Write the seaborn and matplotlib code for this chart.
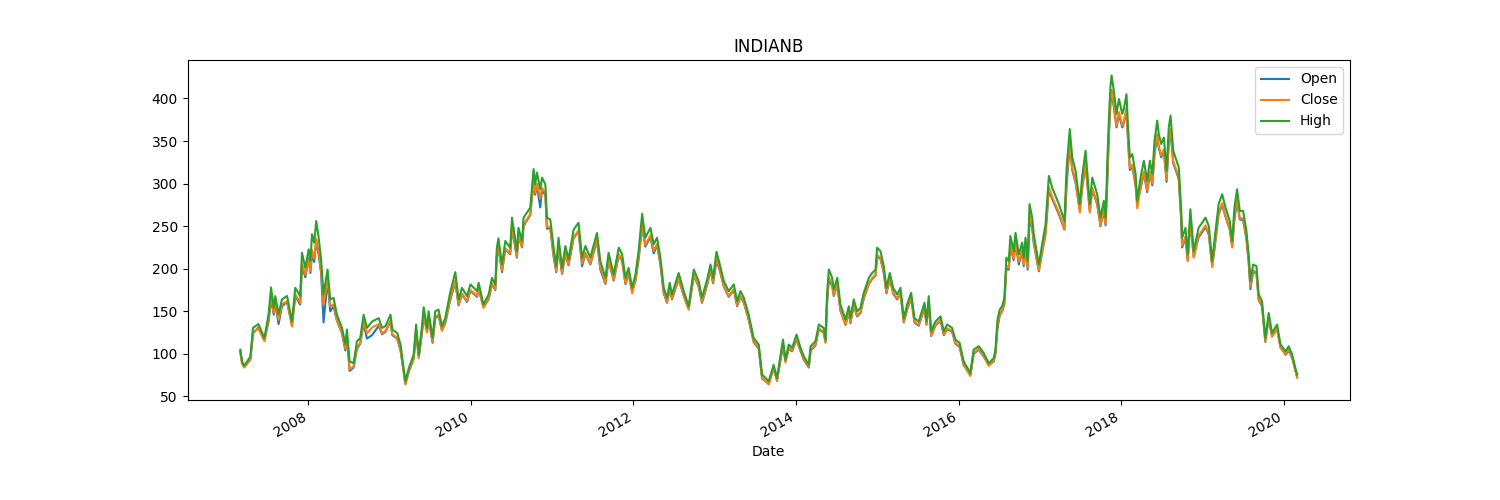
import pandas as pd
import matplotlib
matplotlib.use("Agg")
import matplotlib.pyplot as plt
import seaborn as sns

title = "INDIANB"

dates = [
    "2007-03-01", "2007-03-09", "2007-03-19", "2007-04-15", "2007-04-27", "2007-05-21", "2007-06-17",
    "2007-07-06", "2007-07-17", "2007-07-29", "2007-08-05", "2007-08-20", "2007-09-04", "2007-09-27",
    "2007-10-19", "2007-11-03", "2007-11-25", "2007-12-03", "2007-12-18", "2008-01-02", "2008-01-10",
    "2008-01-17", "2008-01-27", "2008-02-05", "2008-02-15", "2008-02-27", "2008-03-09", "2008-03-27",
    "2008-04-08", "2008-04-23", "2008-05-08", "2008-05-31", "2008-06-15", "2008-06-22", "2008-07-04",
    "2008-07-22", "2008-08-06", "2008-08-21", "2008-09-05", "2008-09-20", "2008-10-13", "2008-11-12",
    "2008-11-27", "2008-12-12", "2009-01-04", "2009-01-12", "2009-02-03", "2009-02-18", "2009-03-12",
    "2009-03-27", "2009-04-18", "2009-04-29", "2009-05-11", "2009-05-26", "2009-06-02", "2009-06-17",
    "2009-06-24", "2009-07-05", "2009-07-12", "2009-07-24", "2009-08-08", "2009-08-23", "2009-09-07",
    "2009-09-29", "2009-10-22", "2009-11-06", "2009-11-21", "2009-12-14", "2009-12-29", "2010-01-28",
    "2010-02-04", "2010-02-26", "2010-03-21", "2010-04-05", "2010-04-20", "2010-04-27", "2010-05-04",
    "2010-05-20", "2010-06-04", "2010-06-26", "2010-07-04", "2010-07-26", "2010-08-02", "2010-08-18",
    "2010-08-25", "2010-09-09", "2010-09-24", "2010-10-02", "2010-10-09", "2010-10-16", "2010-10-24",
    "2010-11-08", "2010-11-16", "2010-12-01", "2010-12-08", "2010-12-23", "2011-01-07", "2011-01-19",
    "2011-01-29", "2011-02-14", "2011-03-01", "2011-03-15", "2011-04-07", "2011-04-29", "2011-05-15",
    "2011-05-30", "2011-06-21", "2011-07-21", "2011-08-05", "2011-08-28", "2011-09-11", "2011-10-04",
    "2011-10-27", "2011-11-11", "2011-11-26", "2011-12-10", "2011-12-26", "2012-01-10", "2012-01-24",
    "2012-02-09", "2012-02-23", "2012-03-17", "2012-04-01", "2012-04-16", "2012-05-01", "2012-05-16",
    "2012-05-31", "2012-06-12", "2012-06-22", "2012-07-22", "2012-08-14", "2012-09-05", "2012-09-28",
    "2012-10-20", "2012-11-04", "2012-11-27", "2012-12-12", "2012-12-24", "2013-01-08", "2013-01-23",
    "2013-02-10", "2013-03-04", "2013-03-27", "2013-04-11", "2013-04-26", "2013-05-11", "2013-06-02",
    "2013-06-24", "2013-07-17", "2013-08-01", "2013-08-31", "2013-09-22", "2013-10-07", "2013-11-03",
    "2013-11-14", "2013-11-29", "2013-12-14", "2014-01-03", "2014-01-21", "2014-02-05", "2014-02-27",
    "2014-03-07", "2014-03-29", "2014-04-13", "2014-05-05", "2014-05-13", "2014-05-20", "2014-05-28",
    "2014-06-12", "2014-06-19", "2014-07-05", "2014-07-19", "2014-08-11", "2014-08-26", "2014-09-02",
    "2014-09-17", "2014-10-02", "2014-10-17", "2014-11-01", "2014-11-24", "2014-12-09", "2014-12-24",
    "2014-12-31", "2015-01-15", "2015-01-30", "2015-02-11", "2015-02-26", "2015-03-13", "2015-03-31",
    "2015-04-15", "2015-04-30", "2015-05-15", "2015-06-02", "2015-06-17", "2015-07-06", "2015-08-01",
    "2015-08-10", "2015-08-20", "2015-08-31", "2015-09-19", "2015-10-12", "2015-10-27", "2015-11-11",
    "2015-12-03", "2015-12-18", "2016-01-06", "2016-01-24", "2016-02-23", "2016-03-09", "2016-04-01",
    "2016-04-23", "2016-05-16", "2016-06-07", "2016-06-15", "2016-06-24", "2016-07-04", "2016-07-15",
    "2016-07-25", "2016-08-03", "2016-08-14", "2016-08-21", "2016-09-05", "2016-09-13", "2016-09-28",
    "2016-10-13", "2016-10-20", "2016-10-28", "2016-11-07", "2016-11-15", "2016-11-27", "2016-12-04",
    "2016-12-27", "2017-01-12", "2017-01-26", "2017-02-10", "2017-02-25", "2017-03-12", "2017-03-27",
    "2017-04-11", "2017-04-21", "2017-05-01", "2017-05-15", "2017-05-26", "2017-06-10", "2017-06-29",
    "2017-07-10", "2017-07-25", "2017-08-01", "2017-08-13", "2017-08-24", "2017-09-15", "2017-09-30",
    "2017-10-15", "2017-10-23", "2017-10-31", "2017-11-07", "2017-11-14", "2017-11-19", "2017-11-29",
    "2017-12-11", "2017-12-22", "2018-01-06", "2018-01-13", "2018-01-25", "2018-01-31", "2018-02-09",
    "2018-02-20", "2018-03-07", "2018-03-14", "2018-03-29", "2018-04-13", "2018-04-28", "2018-05-10",
    "2018-05-21", "2018-05-31", "2018-06-12", "2018-06-19", "2018-06-30", "2018-07-12", "2018-07-24",
    "2018-08-03", "2018-08-11", "2018-08-23", "2018-09-07", "2018-09-17", "2018-09-28", "2018-10-02",
    "2018-10-17", "2018-10-27", "2018-11-08", "2018-11-23", "2018-12-15", "2018-12-31", "2019-01-15",
    "2019-01-30", "2019-02-14", "2019-02-24", "2019-03-15", "2019-03-31", "2019-04-15", "2019-05-04",
    "2019-05-15", "2019-05-25", "2019-06-06", "2019-06-18", "2019-07-03", "2019-07-18", "2019-07-28",
    "2019-08-05", "2019-08-17", "2019-09-01", "2019-09-11", "2019-09-26", "2019-10-11", "2019-10-26",
    "2019-11-10", "2019-12-03", "2019-12-18", "2020-01-10", "2020-01-24", "2020-02-09", "2020-02-23",
    "2020-03-02",
]

high_px = [
    105, 91, 86, 97, 130.5, 135, 118.7, 146.5, 178, 154, 167.8, 146.5, 164, 168,
    138, 177.6, 167.8, 218.8, 201, 222.8, 209, 240.5, 230.6, 256, 238.4, 211, 169.8, 199,
    164, 165.8, 146, 130.5, 111, 128.6, 91.2, 89, 114.8, 118.7, 146, 130.5, 138, 142,
    130.5, 132.5, 146, 128.6, 124.6, 111, 67.7, 83.3, 99, 134.5, 99, 134.5, 154.8, 130.5,
    150, 130.5, 118.7, 150, 152, 132.5, 142, 171.7, 196, 164, 177.6, 167.8, 181.6, 173.7,
    183.5, 158, 169.8, 189.3, 181.6, 224.7, 235.7, 205, 232.6, 224.7, 260, 220.8, 248, 232.6,
    260, 266, 271.8, 295.4, 317, 299, 313, 293.4, 307, 299, 260, 258, 224.7, 203,
    236.4, 201, 226.7, 211, 246, 254, 213, 226.7, 213, 242, 209, 189.3, 218.8, 193.3,
    224.7, 216.8, 189.3, 201, 177.6, 193.3, 220.8, 264.6, 236.4, 248, 228.7, 236.4, 213, 177.6,
    165.8, 183.5, 169.8, 195, 173.7, 156, 199, 185.5, 165.8, 187.4, 205, 189.3, 220, 205,
    185.5, 173.7, 181.6, 162, 173.7, 165.8, 146, 118.7, 111, 75.6, 68, 87.2, 71.6, 116.8,
    93.2, 111, 107, 122.7, 107, 97, 87.2, 109, 114.8, 134.5, 130.5, 116.8, 169.8, 199.2,
    189.3, 175.6, 189.3, 158, 140.3, 156, 142, 164, 150, 154, 171.7, 189.3, 195, 199,
    224.7, 220.8, 203, 177.6, 195, 177.6, 169.8, 177.6, 142, 158, 171.7, 142, 138, 160,
    138, 167.8, 126.6, 138, 144, 126.6, 134.5, 130.5, 116.8, 112.8, 91.2, 77.5, 105, 109,
    101, 89, 95, 105, 140, 152, 156, 165.8, 213, 209, 238.4, 220.8, 242, 216.8,
    230.6, 213, 236.4, 209, 275.8, 260, 240.5, 205, 230.6, 252, 309, 295, 285.6, 275.8,
    264, 256, 319, 364, 330.7, 315, 275.8, 309, 338.6, 315, 275.8, 307, 287.5, 260,
    279.7, 260, 326.8, 377.8, 415, 427, 409, 381.8, 399.4, 381.8, 387.7, 405, 370, 330.7,
    334.6, 311, 279.7, 307, 326.8, 303, 326.8, 311, 350.3, 374, 358, 346.5, 354, 315,
    366, 379.8, 338.6, 326.8, 319, 268, 236.4, 248, 216.8, 269.8, 220.8, 248, 254, 260,
    250, 209, 232.6, 275.8, 287.5, 271.8, 256, 232.6, 271.8, 293.4, 268, 268, 244.3, 216.8,
    185.5, 205, 203, 169.8, 162, 118.7, 148, 124.6, 134.5, 111, 103, 109, 99, 83.3,
    75.6,
]

close_px = [
    101, 88, 84, 94, 125, 130, 115, 141, 168, 148, 161, 140, 158, 162,
    132, 170, 160, 206, 193, 210, 197, 222, 212, 235, 221, 198, 158, 188,
    156, 158, 140, 125, 106, 122, 82, 85, 108, 113, 138, 124, 131, 135,
    124, 127, 139, 123, 119, 105, 64, 80, 95, 127, 95, 128, 147, 125,
    143, 125, 114, 144, 146, 127, 137, 165, 186, 158, 171, 162, 175, 168,
    177, 154, 165, 183, 176, 216, 226, 198, 224, 218, 250, 214, 240, 226,
    251, 258, 264, 286, 302, 289, 300, 282, 295, 288, 249, 249, 216, 197,
    227, 195, 219, 205, 237, 245, 206, 219, 206, 234, 202, 183, 211, 187,
    217, 210, 183, 195, 171, 187, 213, 252, 228, 239, 221, 229, 206, 172,
    161, 178, 165, 189, 169, 152, 193, 180, 161, 182, 199, 184, 212, 199,
    180, 168, 176, 157, 168, 161, 141, 115, 107, 72, 64, 84, 68, 112,
    90, 107, 104, 118, 104, 94, 85, 105, 111, 130, 126, 113, 162, 190,
    182, 169, 182, 152, 135, 150, 137, 158, 145, 149, 166, 183, 189, 193,
    216, 213, 196, 172, 189, 172, 165, 172, 138, 153, 166, 138, 134, 155,
    134, 162, 122, 134, 140, 123, 130, 127, 113, 109, 88, 74, 101, 106,
    98, 86, 92, 101, 134, 146, 151, 160, 204, 201, 228, 212, 232, 208,
    222, 205, 227, 201, 262, 250, 232, 198, 222, 242, 296, 284, 275, 266,
    255, 247, 305, 348, 318, 303, 266, 297, 325, 303, 266, 295, 277, 251,
    270, 252, 312, 362, 398, 410, 393, 368, 384, 368, 373, 389, 356, 318,
    322, 300, 271, 296, 314, 292, 314, 300, 337, 358, 344, 333, 340, 304,
    351, 364, 326, 315, 307, 258, 227, 238, 209, 259, 213, 239, 245, 251,
    241, 202, 224, 266, 277, 262, 247, 225, 262, 282, 259, 259, 236, 209,
    179, 198, 196, 164, 157, 115, 143, 120, 130, 107, 100, 105, 96, 80,
    72,
]

open_px = [
    103, 89, 85, 93, 124, 131, 116, 138, 165, 146, 159, 135, 156, 161,
    134, 168, 158, 203, 190, 212, 195, 218, 208, 232, 218, 195, 137, 186,
    150, 156, 139, 124, 104, 121, 80, 84, 106, 112, 136, 118, 122, 133,
    123, 126, 138, 122, 118, 104, 65, 79, 94, 125, 96, 126, 145, 126,
    142, 124, 113, 142, 145, 128, 136, 163, 184, 157, 170, 161, 174, 167,
    176, 155, 164, 182, 175, 214, 224, 196, 223, 217, 248, 213, 238, 225,
    250, 257, 263, 284, 300, 287, 298, 272, 293, 286, 247, 248, 214, 196,
    225, 194, 218, 204, 236, 244, 203, 218, 205, 233, 199, 182, 210, 186,
    216, 209, 182, 194, 174, 186, 211, 250, 226, 237, 218, 228, 205, 171,
    160, 177, 164, 188, 168, 153, 192, 179, 160, 181, 198, 183, 210, 198,
    179, 167, 175, 156, 167, 160, 140, 114, 106, 71, 65, 83, 69, 110,
    91, 106, 103, 117, 103, 93, 84, 104, 110, 129, 125, 114, 158, 187,
    180, 168, 181, 151, 134, 149, 136, 157, 144, 148, 165, 182, 188, 192,
    214, 212, 195, 171, 188, 171, 164, 171, 137, 152, 165, 137, 133, 154,
    135, 161, 121, 133, 139, 122, 129, 126, 112, 108, 87, 75, 100, 105,
    97, 87, 91, 100, 130, 145, 150, 158, 200, 199, 226, 210, 230, 205,
    220, 203, 225, 199, 258, 248, 230, 197, 221, 240, 293, 282, 273, 264,
    253, 246, 300, 345, 316, 301, 270, 295, 323, 301, 268, 293, 276, 250,
    268, 251, 305, 358, 395, 407, 390, 366, 381, 366, 371, 386, 354, 316,
    320, 298, 276, 294, 312, 290, 312, 298, 335, 355, 342, 331, 338, 302,
    348, 361, 324, 313, 305, 256, 225, 236, 210, 256, 214, 237, 243, 249,
    240, 204, 222, 264, 275, 261, 246, 226, 258, 280, 258, 257, 235, 208,
    176, 196, 195, 163, 156, 114, 142, 121, 129, 108, 99, 104, 95, 81,
    73,
]

df = pd.DataFrame({
    "Date": pd.to_datetime(dates),
    "Open": open_px,
    "Close": close_px,
    "High": high_px,
})

fig, ax = plt.subplots(figsize=(15, 5), dpi=100)
sns.lineplot(data=df, x="Date", y="Open", color="#1f77b4", label="Open", ax=ax)
sns.lineplot(data=df, x="Date", y="Close", color="#ff7f0e", label="Close", ax=ax)
sns.lineplot(data=df, x="Date", y="High", color="#2ca02c", label="High", ax=ax)

ax.set_title(title)
ax.set_xlabel("Date")
ax.set_ylabel("")
ax.legend(loc="upper right")
fig.autofmt_xdate()

plt.savefig("out.png")
plt.close()
